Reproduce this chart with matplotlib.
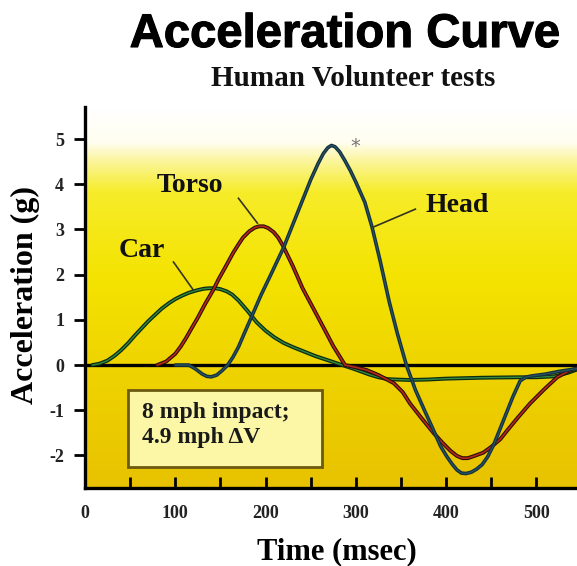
import matplotlib.pyplot as plt
import numpy as np
import matplotlib.patheffects as pe
from matplotlib.colors import LinearSegmentedColormap
from matplotlib.patches import Rectangle

plt.rcParams['axes.unicode_minus'] = False
SERIF = ['Liberation Serif', 'DejaVu Serif']

# values (time in msec, acceleration in g)
car_t = [8, 16, 25, 33, 40, 48, 55, 63, 70, 78, 85, 93, 100, 108, 115, 125, 132, 138,
         144, 150, 157, 163, 170, 180, 190, 200, 210, 220, 230, 240, 255, 270, 285, 300,
         315, 325, 335, 345, 360, 380, 400, 440, 480, 500, 520, 535, 545]
car_g = [0.0, 0.03, 0.1, 0.21, 0.33, 0.49, 0.65, 0.82, 0.97, 1.12, 1.25, 1.37, 1.46,
         1.54, 1.6, 1.66, 1.69, 1.7, 1.7, 1.68, 1.63, 1.56, 1.43, 1.2, 0.95, 0.76, 0.61,
         0.49, 0.4, 0.32, 0.2, 0.1, 0.0, -0.1, -0.21, -0.27, -0.31, -0.32, -0.33, -0.32,
         -0.3, -0.28, -0.27, -0.27, -0.25, -0.17, -0.1]

torso_t = [80, 90, 100, 106, 112, 118, 125, 133, 142, 148, 155, 164, 170, 175, 182, 188,
           193, 198, 203, 209, 214, 219, 230, 241, 253, 265, 275, 288, 300, 312, 325, 342,
           352, 360, 373, 386, 396, 405, 412, 418, 424, 430, 441, 450, 460, 468, 480, 493,
           508, 523, 535, 545]
torso_g = [0.0, 0.08, 0.25, 0.41, 0.6, 0.81, 1.05, 1.35, 1.66, 1.9, 2.15, 2.48, 2.67,
           2.82, 2.96, 3.04, 3.07, 3.07, 3.03, 2.94, 2.82, 2.65, 2.2, 1.7, 1.25, 0.8,
           0.42, 0.0, -0.05, -0.11, -0.22, -0.4, -0.6, -0.85, -1.18, -1.5, -1.72, -1.9,
           -2.01, -2.06, -2.06, -2.02, -1.94, -1.81, -1.64, -1.44, -1.15, -0.85, -0.55,
           -0.27, -0.14, -0.07]

head_t = [100, 115, 122, 130, 135, 140, 146, 152, 158, 164, 170, 176, 183, 195, 207, 220,
          230, 238, 250, 258, 264, 269, 273, 277, 282, 288, 294, 300, 310, 318, 327, 337,
          346, 356, 366, 376, 386, 394, 401, 407, 412, 417, 422, 428, 434, 440, 446, 453,
          460, 467, 474, 482, 488, 495, 510, 525, 545]
head_g = [0.0, 0.0, -0.08, -0.2, -0.25, -0.26, -0.22, -0.12, 0.0, 0.18, 0.4, 0.68, 1.0,
          1.55, 2.05, 2.6, 3.1, 3.5, 4.1, 4.45, 4.68, 4.81, 4.86, 4.83, 4.72, 4.52, 4.3,
          4.05, 3.6, 3.05, 2.3, 1.4, 0.7, 0.0, -0.55, -1.0, -1.44, -1.8, -2.03, -2.2,
          -2.32, -2.39, -2.4, -2.37, -2.3, -2.2, -2.03, -1.75, -1.4, -1.05, -0.7, -0.35,
          -0.27, -0.24, -0.2, -0.14, -0.08]

x_ticks = [0, 50, 100, 150, 200, 250, 300, 350, 400, 450, 500]
x_labels = ['0', '', '100', '', '200', '', '300', '', '400', '', '500']
y_ticks = [-2, -1, 0, 1, 2, 3, 4, 5]

fig = plt.figure(figsize=(5.77, 5.66), dpi=100)
ax = fig.add_axes([85 / 577, 78 / 566, 492 / 577, 381 / 566])
xmin, xmax, ymin, ymax = 0, 545, -2.72, 5.71
ax.set_xlim(xmin, xmax)
ax.set_ylim(ymin, ymax)

# yellow background fading to white at the top
bg = LinearSegmentedColormap.from_list('bg', [
    (0.0, '#e8c200'), (0.32, '#efd400'), (0.55, '#f4e300'),
    (0.78, '#f7ec2a'), (0.86, '#fbf59a'), (0.91, '#fffef0'), (1.0, '#ffffff')])
grad = np.linspace(0, 1, 300).reshape(-1, 1)
ax.imshow(grad, cmap=bg, origin='lower', aspect='auto',
          extent=[xmin, xmax, ymin, ymax], zorder=0)

ax.axhline(0, color='black', lw=2.4, zorder=2)

style = dict(solid_joinstyle='round', solid_capstyle='round')
ax.plot(car_t, car_g, color='#0e2a12', lw=2.8, zorder=3, **style)
ax.plot(car_t, car_g, color='#2f8a3e', lw=1.0, zorder=3, **style)
ax.plot(torso_t, torso_g, color='#2a0e06', lw=2.8, zorder=4, **style)
ax.plot(torso_t, torso_g, color='#b3281a', lw=1.2, zorder=4, **style)
ax.plot(head_t, head_g, color='#13303c', lw=2.6, zorder=5, **style)
ax.plot(head_t, head_g, color='#2b5566', lw=0.8, zorder=5, **style)

lbl = dict(fontsize=20, fontweight='bold', family=SERIF, ha='center', va='center',
           color='#111111', zorder=6)
ax.text(116, 3.98, 'Torso', **lbl)
ax.text(63, 2.54, 'Car', **lbl)
ax.text(412, 3.54, 'Head', **lbl)
ax.plot([170, 191], [3.69, 3.14], color='#333322', lw=1.2, zorder=6)
ax.plot([98, 120], [2.28, 1.66], color='#333322', lw=1.2, zorder=6)
ax.plot([366, 319], [3.45, 3.05], color='#333322', lw=1.2, zorder=6)
ax.text(299, 4.83, '*', fontsize=14, color='#777777', ha='center', va='center', zorder=6)

ax.add_patch(Rectangle((48, -2.26), 215, 1.71, facecolor='#fbf7a6',
                       edgecolor='#6b5a10', lw=2, zorder=6))
box = dict(fontsize=17, fontweight='bold', family=SERIF, ha='left', va='center',
           color='#1a1a1a', zorder=7)
ax.text(63, -1.06, '8 mph impact;', **box)
ax.text(63, -1.6, '4.9 mph \u0394V', **box)

for s in ['top', 'right']:
    ax.spines[s].set_visible(False)
for s in ['left', 'bottom']:
    ax.spines[s].set_linewidth(2.4)
    ax.spines[s].set_zorder(8)

ax.set_xticks(x_ticks)
ax.set_xticklabels(x_labels)
ax.set_yticks(y_ticks)
ax.tick_params(axis='x', direction='in', length=8, width=2, pad=12, labelsize=13)
ax.tick_params(axis='y', direction='out', length=8, width=2, pad=7, labelsize=13)
for t in ax.get_xticklabels() + ax.get_yticklabels():
    t.set_family(SERIF)
    t.set_fontweight('bold')
    t.set_color('#222222')

fig.text(337 / 577, 1 - 552 / 566, 'Time (msec)', fontsize=22, fontweight='bold',
         family=SERIF, ha='center', va='center')
fig.text(25 / 577, 1 - 295 / 566, 'Acceleration (g)', fontsize=23, fontweight='bold',
         family=SERIF, ha='center', va='center', rotation=90)
title = fig.text(345 / 577, 1 - 35 / 566, 'Acceleration Curve', fontsize=34,
                 fontweight='bold', family=['Liberation Sans', 'DejaVu Sans'],
                 ha='center', va='center')
title.set_path_effects([pe.withStroke(linewidth=0.8, foreground='black')])
fig.text(353 / 577, 1 - 78 / 566, 'Human Volunteer tests', fontsize=21, fontweight='bold',
         family=SERIF, ha='center', va='center', color='#111111')

fig.savefig('out.png', dpi=100)
